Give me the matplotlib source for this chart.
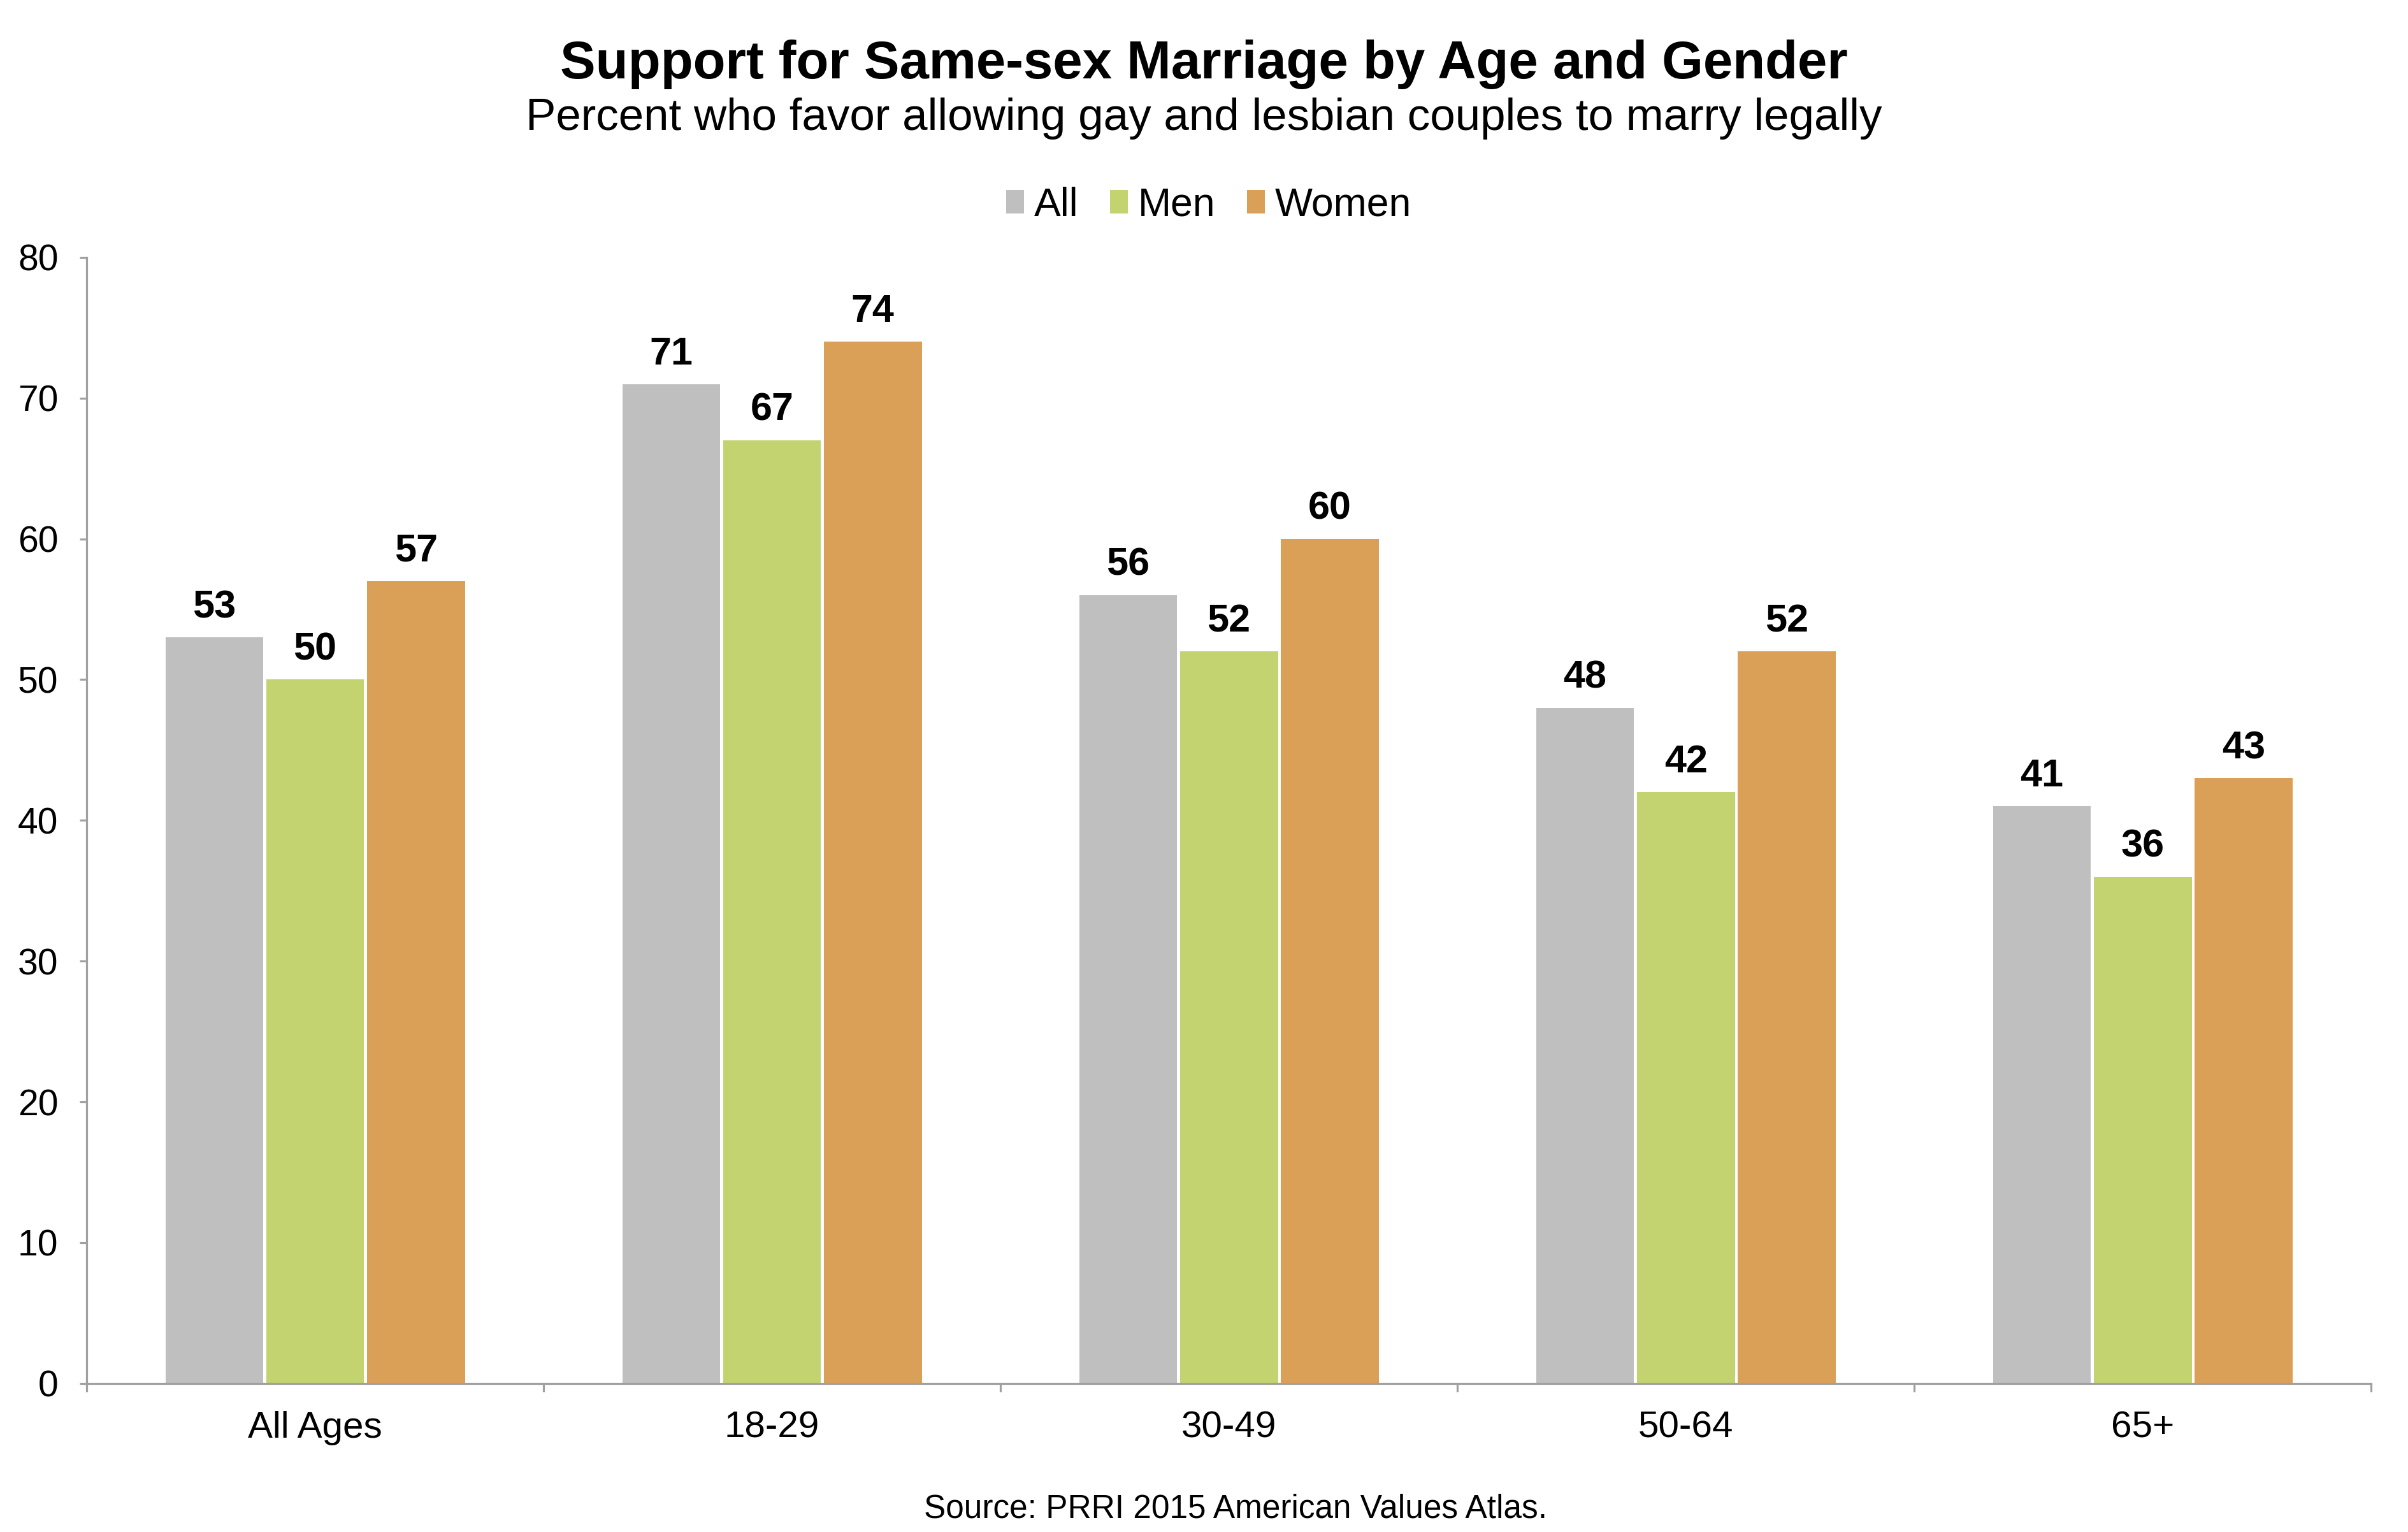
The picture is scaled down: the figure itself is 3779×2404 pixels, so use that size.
import matplotlib
matplotlib.use('Agg')
import matplotlib.pyplot as plt
import numpy as np
from matplotlib.patches import Patch

plt.rcParams['font.family'] = ['Liberation Sans', 'DejaVu Sans']

groups = ['All Ages', '18-29', '30-49', '50-64', '65+']
series = ['All', 'Men', 'Women']
all_vals = [53, 71, 56, 48, 41]
men_vals = [50, 67, 52, 42, 36]
women_vals = [57, 74, 60, 52, 43]
colors = ['#BFBFBF', '#C2D370', '#DAA058']
axis_col = '#A0A0A0'

fig = plt.figure(figsize=(37.79, 24.04), dpi=100)
ax = fig.add_axes([0.036, 0.097, 0.9487, 0.735])

x = np.arange(len(groups))
step = 0.2205
width = 0.2145
for i, (vals, col) in enumerate(zip([all_vals, men_vals, women_vals], colors)):
    bars = ax.bar(x + (i - 1) * step, vals, width, color=col, edgecolor='none')
    ax.bar_label(bars, padding=13, fontsize=44, fontweight='bold')

ax.set_xlim(-0.5, len(groups) - 0.5)
ax.set_ylim(0, 80)
ax.set_yticks(range(0, 81, 10))
ax.set_xticks(x)
ax.set_xticklabels(groups)
ax.set_xticks(np.arange(-0.5, len(groups)), minor=True)

for s in ['top', 'right']:
    ax.spines[s].set_visible(False)
for s in ['left', 'bottom']:
    ax.spines[s].set_color(axis_col)
    ax.spines[s].set_linewidth(2.3)

ax.tick_params(axis='y', length=8, width=2.3, color=axis_col, labelsize=41, pad=24)
ax.tick_params(axis='x', which='major', length=0, labelsize=42, pad=31)
ax.tick_params(axis='x', which='minor', length=9, width=2.3, color=axis_col)

fig.text(0.5, 0.958, 'Support for Same-sex Marriage by Age and Gender',
         ha='center', va='center', fontsize=60, fontweight='bold')
fig.text(0.5, 0.9226, 'Percent who favor allowing gay and lesbian couples to marry legally',
         ha='center', va='center', fontsize=51)

handles = [Patch(facecolor=c, edgecolor='none', label=s) for s, c in zip(series, colors)]
fig.legend(handles=handles, loc='center', bbox_to_anchor=(0.502, 0.866), ncol=3,
           frameon=False, fontsize=45, handlelength=0.45, handleheight=0.55,
           handletextpad=0.25, columnspacing=0.8)

fig.text(0.513, 0.015, 'Source: PRRI 2015 American Values Atlas.',
         ha='center', va='center', fontsize=37)

fig.savefig('out.png', dpi=100)
